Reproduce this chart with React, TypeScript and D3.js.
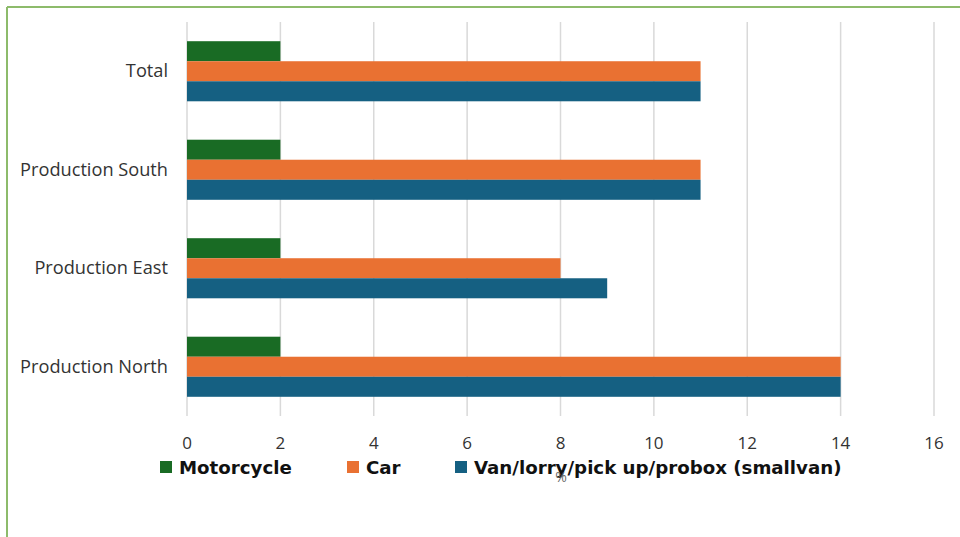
import React from "react";
import * as d3 from "d3";

const categories = ["Total", "Production South", "Production East", "Production North"];
const seriesNames = ["Motorcycle", "Car", "Van/lorry/pick up/probox (smallvan)"];
const motorcycle = [2, 2, 2, 2];
const car = [11, 11, 8, 14];
const van = [11, 11, 9, 14];
const xTicks = [0, 2, 4, 6, 8, 10, 12, 14, 16];
const colors = ["#196B24", "#E97132", "#156082"];
const axisTitle = "%";

export default function App() {
  const W = 960, H = 537;
  const x = d3.scaleLinear().domain([0, 16]).range([187, 934]);
  const y = d3.scaleBand().domain(categories).range([22, 416]).paddingInner(0.39).paddingOuter(0.195);
  const inner = d3.scaleBand().domain(seriesNames).range([0, y.bandwidth()]);
  const values = [motorcycle, car, van];
  const font = "'Open Sans', sans-serif";
  const legendFont = "'DejaVu Sans', sans-serif";
  const legendX = [160, 347, 455];
  return (
    <svg width={W} height={H} style={{ position: "absolute", left: 0, top: 0, background: "#fff" }}>
      <rect x={0} y={0} width={W} height={H} fill="#fff" />
      <line x1={7} y1={7} x2={W} y2={7} stroke="#8DBB6B" strokeWidth={2} />
      <line x1={7} y1={7} x2={7} y2={H} stroke="#8DBB6B" strokeWidth={2} />
      {xTicks.map((t) => (
        <g key={t}>
          <line x1={x(t)} x2={x(t)} y1={22} y2={416} stroke="#d9d9d9" strokeWidth={1.5} />
          <text x={x(t)} y={449} textAnchor="middle" fontSize={17} fill="#333" fontFamily={font}>{t}</text>
        </g>
      ))}
      {categories.map((c, i) => (
        <g key={c}>
          <text x={168} y={(y(c) as number) + y.bandwidth() / 2 + 6} textAnchor="end" fontSize={18.2} fill="#333" fontFamily={font}>{c}</text>
          {seriesNames.map((s, j) => (
            <rect key={s} x={x(0)} y={(y(c) as number) + (inner(s) as number)} width={x(values[j][i]) - x(0)} height={inner.bandwidth()} fill={colors[j]} />
          ))}
        </g>
      ))}
      {seriesNames.map((s, j) => (
        <g key={s}>
          <rect x={legendX[j]} y={461} width={12} height={12} fill={colors[j]} />
          <text x={legendX[j] + 19} y={474} fontSize={18.2} fontWeight="bold" fill="#111" fontFamily={legendFont}>{s}</text>
        </g>
      ))}
      <text x={561} y={482} textAnchor="middle" fontSize={14} fill="#666" fontFamily={font}>{axisTitle}</text>
    </svg>
  );
}
